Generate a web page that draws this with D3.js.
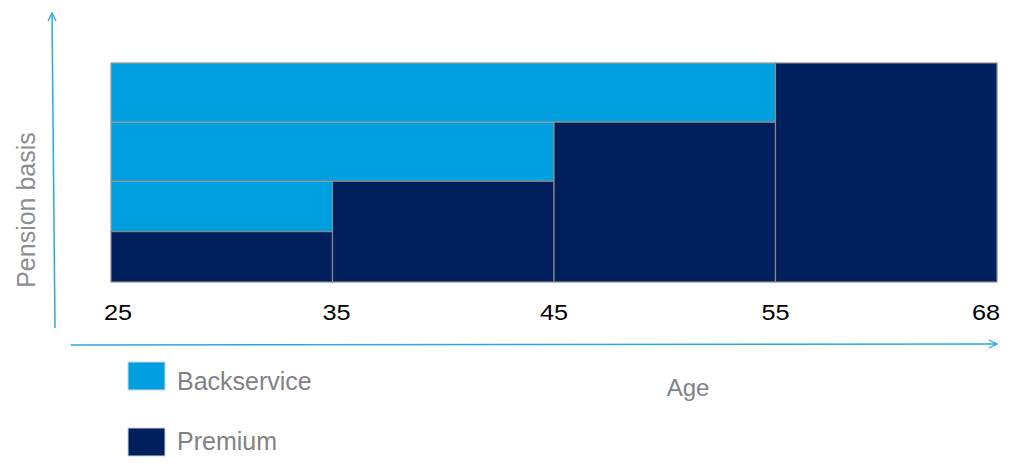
<!DOCTYPE html>
<html><head><meta charset="utf-8">
<script src="https://cdn.jsdelivr.net/npm/d3@7"></script>
<style>
html,body{margin:0;padding:0;background:#fff;}
svg{display:block;font-family:"Liberation Sans",Arial,sans-serif;}
</style></head>
<body>
<svg id="c" width="1020" height="469"></svg>
<script>
// Data
const ageTicks = ["25","35","45","55","68"];
const premiumLevels = [23, 46, 73, 100];      // pension basis per age segment
const seriesNames = ["Backservice","Premium"];
const seriesColors = ["#009fdf","#001f5c"];

const svg = d3.select("#c");
const x = d3.scalePoint().domain(ageTicks).range([111, 997]);
const y = d3.scaleLinear().domain([0, 100]).range([282, 63]);

// Premium rects: each age segment from 0 to its level
const premium = premiumLevels.map((v,i)=>({x0:ageTicks[i], x1:ageTicks[i+1], y0:0, y1:v}));
// Backservice rects: each increase financed back to age 25
const back = premiumLevels.slice(1).map((v,i)=>({x0:ageTicks[0], x1:ageTicks[i+1], y0:premiumLevels[i], y1:v}));

const g = svg.append("g");
g.selectAll("rect.bs").data(back).join("rect").attr("class","bs")
  .attr("x", d=>x(d.x0)).attr("width", d=>x(d.x1)-x(d.x0))
  .attr("y", d=>y(d.y1)).attr("height", d=>y(d.y0)-y(d.y1))
  .attr("fill", seriesColors[0]).attr("stroke","#9a9a9a").attr("stroke-width",1.2);
g.selectAll("rect.pr").data(premium).join("rect").attr("class","pr")
  .attr("x", d=>x(d.x0)).attr("width", d=>x(d.x1)-x(d.x0))
  .attr("y", d=>y(d.y1)).attr("height", d=>y(d.y0)-y(d.y1))
  .attr("fill", seriesColors[1]).attr("stroke","#8a8a8a").attr("stroke-width",1.2);

// Tick labels
const tickShift = i => i===0 ? 7 : (i===ageTicks.length-1 ? -11 : (i===1 ? 4 : 0));
svg.selectAll("text.tick").data(ageTicks).join("text").attr("class","tick")
  .attr("transform", (d,i)=>`translate(${x(d)+tickShift(i)},320) scale(1.15,1)`)
  .attr("text-anchor","middle")
  .attr("font-size", 22).attr("fill","#000").text(d=>d);

// Arrows
const defs = svg.append("defs");
defs.append("marker").attr("id","arr").attr("viewBox","0 0 10 10")
  .attr("refX",9).attr("refY",5).attr("markerWidth",10).attr("markerHeight",10)
  .attr("markerUnits","userSpaceOnUse").attr("orient","auto")
  .append("path").attr("d","M1,1 L9,5 L1,9").attr("fill","none").attr("stroke","#29a8e0").attr("stroke-width",1.3);

svg.append("line").attr("x1",55).attr("y1",328).attr("x2",52).attr("y2",13)
  .attr("stroke","#29a8e0").attr("stroke-width",1.5).attr("marker-end","url(#arr)");
svg.append("line").attr("x1",71).attr("y1",345).attr("x2",997).attr("y2",344)
  .attr("stroke","#29a8e0").attr("stroke-width",1.5).attr("marker-end","url(#arr)");

// Axis titles
svg.append("text").attr("transform","translate(35,210) rotate(-90)")
  .attr("text-anchor","middle").attr("font-size",25).attr("fill","#8a8d91").text("Pension basis");
svg.append("text").attr("x",688).attr("y",396).attr("text-anchor","middle")
  .attr("font-size",24).attr("fill","#7f8286").text("Age");

// Legend
const legTop = [362, 428];
const legBase = [390, 450];
const leg = svg.selectAll("g.leg").data(seriesNames).join("g").attr("class","leg");
leg.append("rect").attr("x",128).attr("y",(d,i)=>legTop[i]).attr("width",37).attr("height",28)
  .attr("fill",(d,i)=>seriesColors[i]).attr("stroke","#cfd6dc").attr("stroke-width",1);
leg.append("text").attr("x",177).attr("y",(d,i)=>legBase[i]).attr("font-size",25)
  .attr("fill","#7f8286").text(d=>d);
</script>
</body></html>
